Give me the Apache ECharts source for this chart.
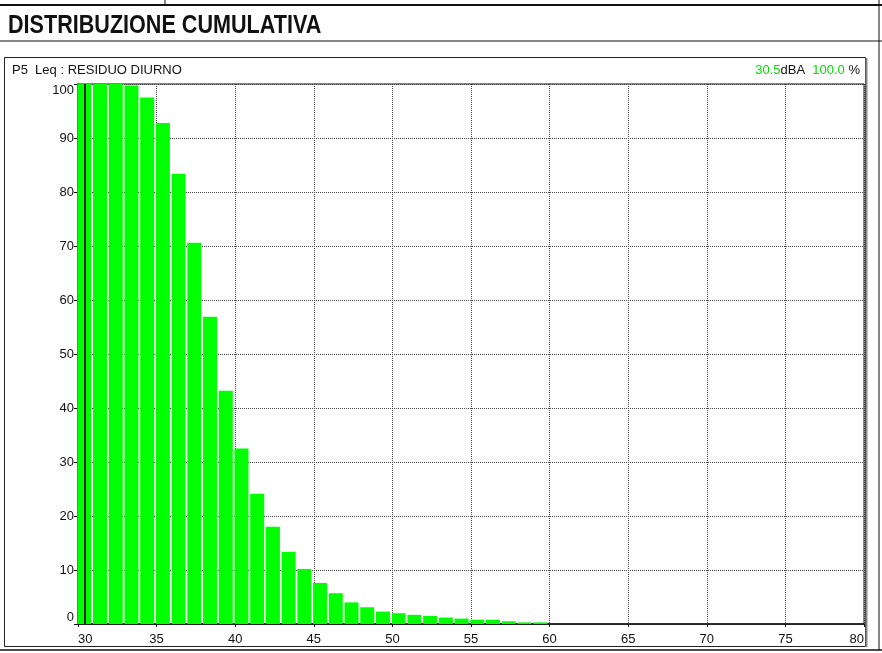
<!DOCTYPE html>
<html>
<head>
<meta charset="utf-8">
<script src="https://cdn.jsdelivr.net/npm/echarts@6/dist/echarts.min.js"></script>
<style>
  html, body { margin: 0; padding: 0; background: #fff; }
  #c { width: 882px; height: 653px; }
</style>
</head>
<body>
<div id="c"></div>
<script>
// livelli (dBA) e percentuale cumulativa
var levels = [30, 31, 32, 33, 34, 35, 36, 37, 38, 39,
              40, 41, 42, 43, 44, 45, 46, 47, 48, 49,
              50, 51, 52, 53, 54, 55, 56, 57, 58, 59];
var cumulative = [100, 100, 100, 99.7, 97.5, 92.8, 83.4, 70.6, 56.9, 43.2,
                  32.5, 24.1, 18.0, 13.4, 10.2, 7.6, 5.7, 4.0, 3.1, 2.3,
                  2.0, 1.7, 1.5, 1.2, 1.0, 0.8, 0.8, 0.5, 0.3, 0.3];
var xTicks = [30, 35, 40, 45, 50, 55, 60, 65, 70, 75, 80];
var yTicks = [0, 10, 20, 30, 40, 50, 60, 70, 80, 90, 100];
var cursorLevel = 30.5;
var cursorPercent = 100.0;

var green = '#00ff00';
var font = 'Liberation Sans, Arial, sans-serif';

var barData = levels.map(function (l, i) { return [l + 0.4, cumulative[i]]; });

var chart = echarts.init(document.getElementById('c'));
var option = {
    animation: false,
    grid: {
        left: 78, right: 18, top: 84, bottom: 29,
        show: true, borderColor: '#111', borderWidth: 1
    },
    xAxis: {
        type: 'value', min: xTicks[0], max: xTicks[xTicks.length - 1], interval: 5,
        axisLine: { onZero: false, lineStyle: { color: '#111', width: 1.5 } },
        axisTick: { show: true, length: 3, lineStyle: { color: '#111' } },
        axisLabel: {
            color: '#111', fontFamily: font, fontSize: 13, margin: 9,
            alignMinLabel: 'left', alignMaxLabel: 'right'
        },
        splitLine: { show: true, lineStyle: { color: '#444', type: 'dotted', width: 1 } }
    },
    yAxis: {
        type: 'value', min: yTicks[0], max: yTicks[yTicks.length - 1], interval: 10,
        axisLine: { show: true, lineStyle: { color: '#111', width: 1.5 } },
        axisTick: { show: true, length: 4, lineStyle: { color: '#111' } },
        axisLabel: {
            color: '#111', fontFamily: font, fontSize: 13, margin: 4,
            verticalAlignMinLabel: 'bottom', verticalAlignMaxLabel: 'top'
        },
        splitLine: { show: true, lineStyle: { color: '#444', type: 'dotted', width: 1 } }
    },
    series: [{
        type: 'bar',
        data: barData,
        barWidth: 14,
        itemStyle: { color: green },
        markLine: {
            symbol: 'none', silent: true, label: { show: false },
            lineStyle: { color: '#222', width: 2, type: 'solid' },
            data: [{ xAxis: cursorLevel - 0.1 }]
        }
    }],
    graphic: [
        // titolo (font stretto)
        {
            type: 'text', x: 8, y: 13, scaleX: 0.83,
            style: {
                text: 'DISTRIBUZIONE CUMULATIVA',
                font: 'bold 26px ' + font, fill: '#111', verticalAlign: 'top'
            }
        },
        // cornice pagina
        { type: 'line', shape: { x1: 0, y1: 5, x2: 882, y2: 5 }, style: { stroke: '#111', lineWidth: 2 } },
        { type: 'line', shape: { x1: 165, y1: 0, x2: 165, y2: 5 }, style: { stroke: '#111', lineWidth: 1 } },
        { type: 'line', shape: { x1: 0, y1: 41, x2: 882, y2: 41 }, style: { stroke: '#111', lineWidth: 1 } },
        { type: 'line', shape: { x1: 879, y1: 0, x2: 879, y2: 650 }, style: { stroke: '#111', lineWidth: 1 } },
        { type: 'line', shape: { x1: 0, y1: 650, x2: 882, y2: 650 }, style: { stroke: '#111', lineWidth: 1.5 } },
        // riquadro grafico
        { type: 'rect', shape: { x: 4.5, y: 57.5, width: 861, height: 589 }, style: { fill: 'none', stroke: '#222', lineWidth: 1 } },
        { type: 'line', shape: { x1: 866.5, y1: 58, x2: 866.5, y2: 647 }, style: { stroke: '#888', lineWidth: 2 } },
        {
            type: 'text', left: 12, top: 64,
            style: { text: 'P5  Leq : RESIDUO DIURNO', font: '13px ' + font, fill: '#111' }
        },
        {
            type: 'text', right: 22, top: 64,
            style: {
                text: '{g|' + cursorLevel.toFixed(1) + '}{k|dBA  }{g|' + cursorPercent.toFixed(1) + '}{k| %}',
                rich: {
                    g: { fill: '#00dd00', font: '13px ' + font },
                    k: { fill: '#111', font: '13px ' + font }
                }
            }
        }
    ]
};
chart.setOption(option);
</script>
</body>
</html>
